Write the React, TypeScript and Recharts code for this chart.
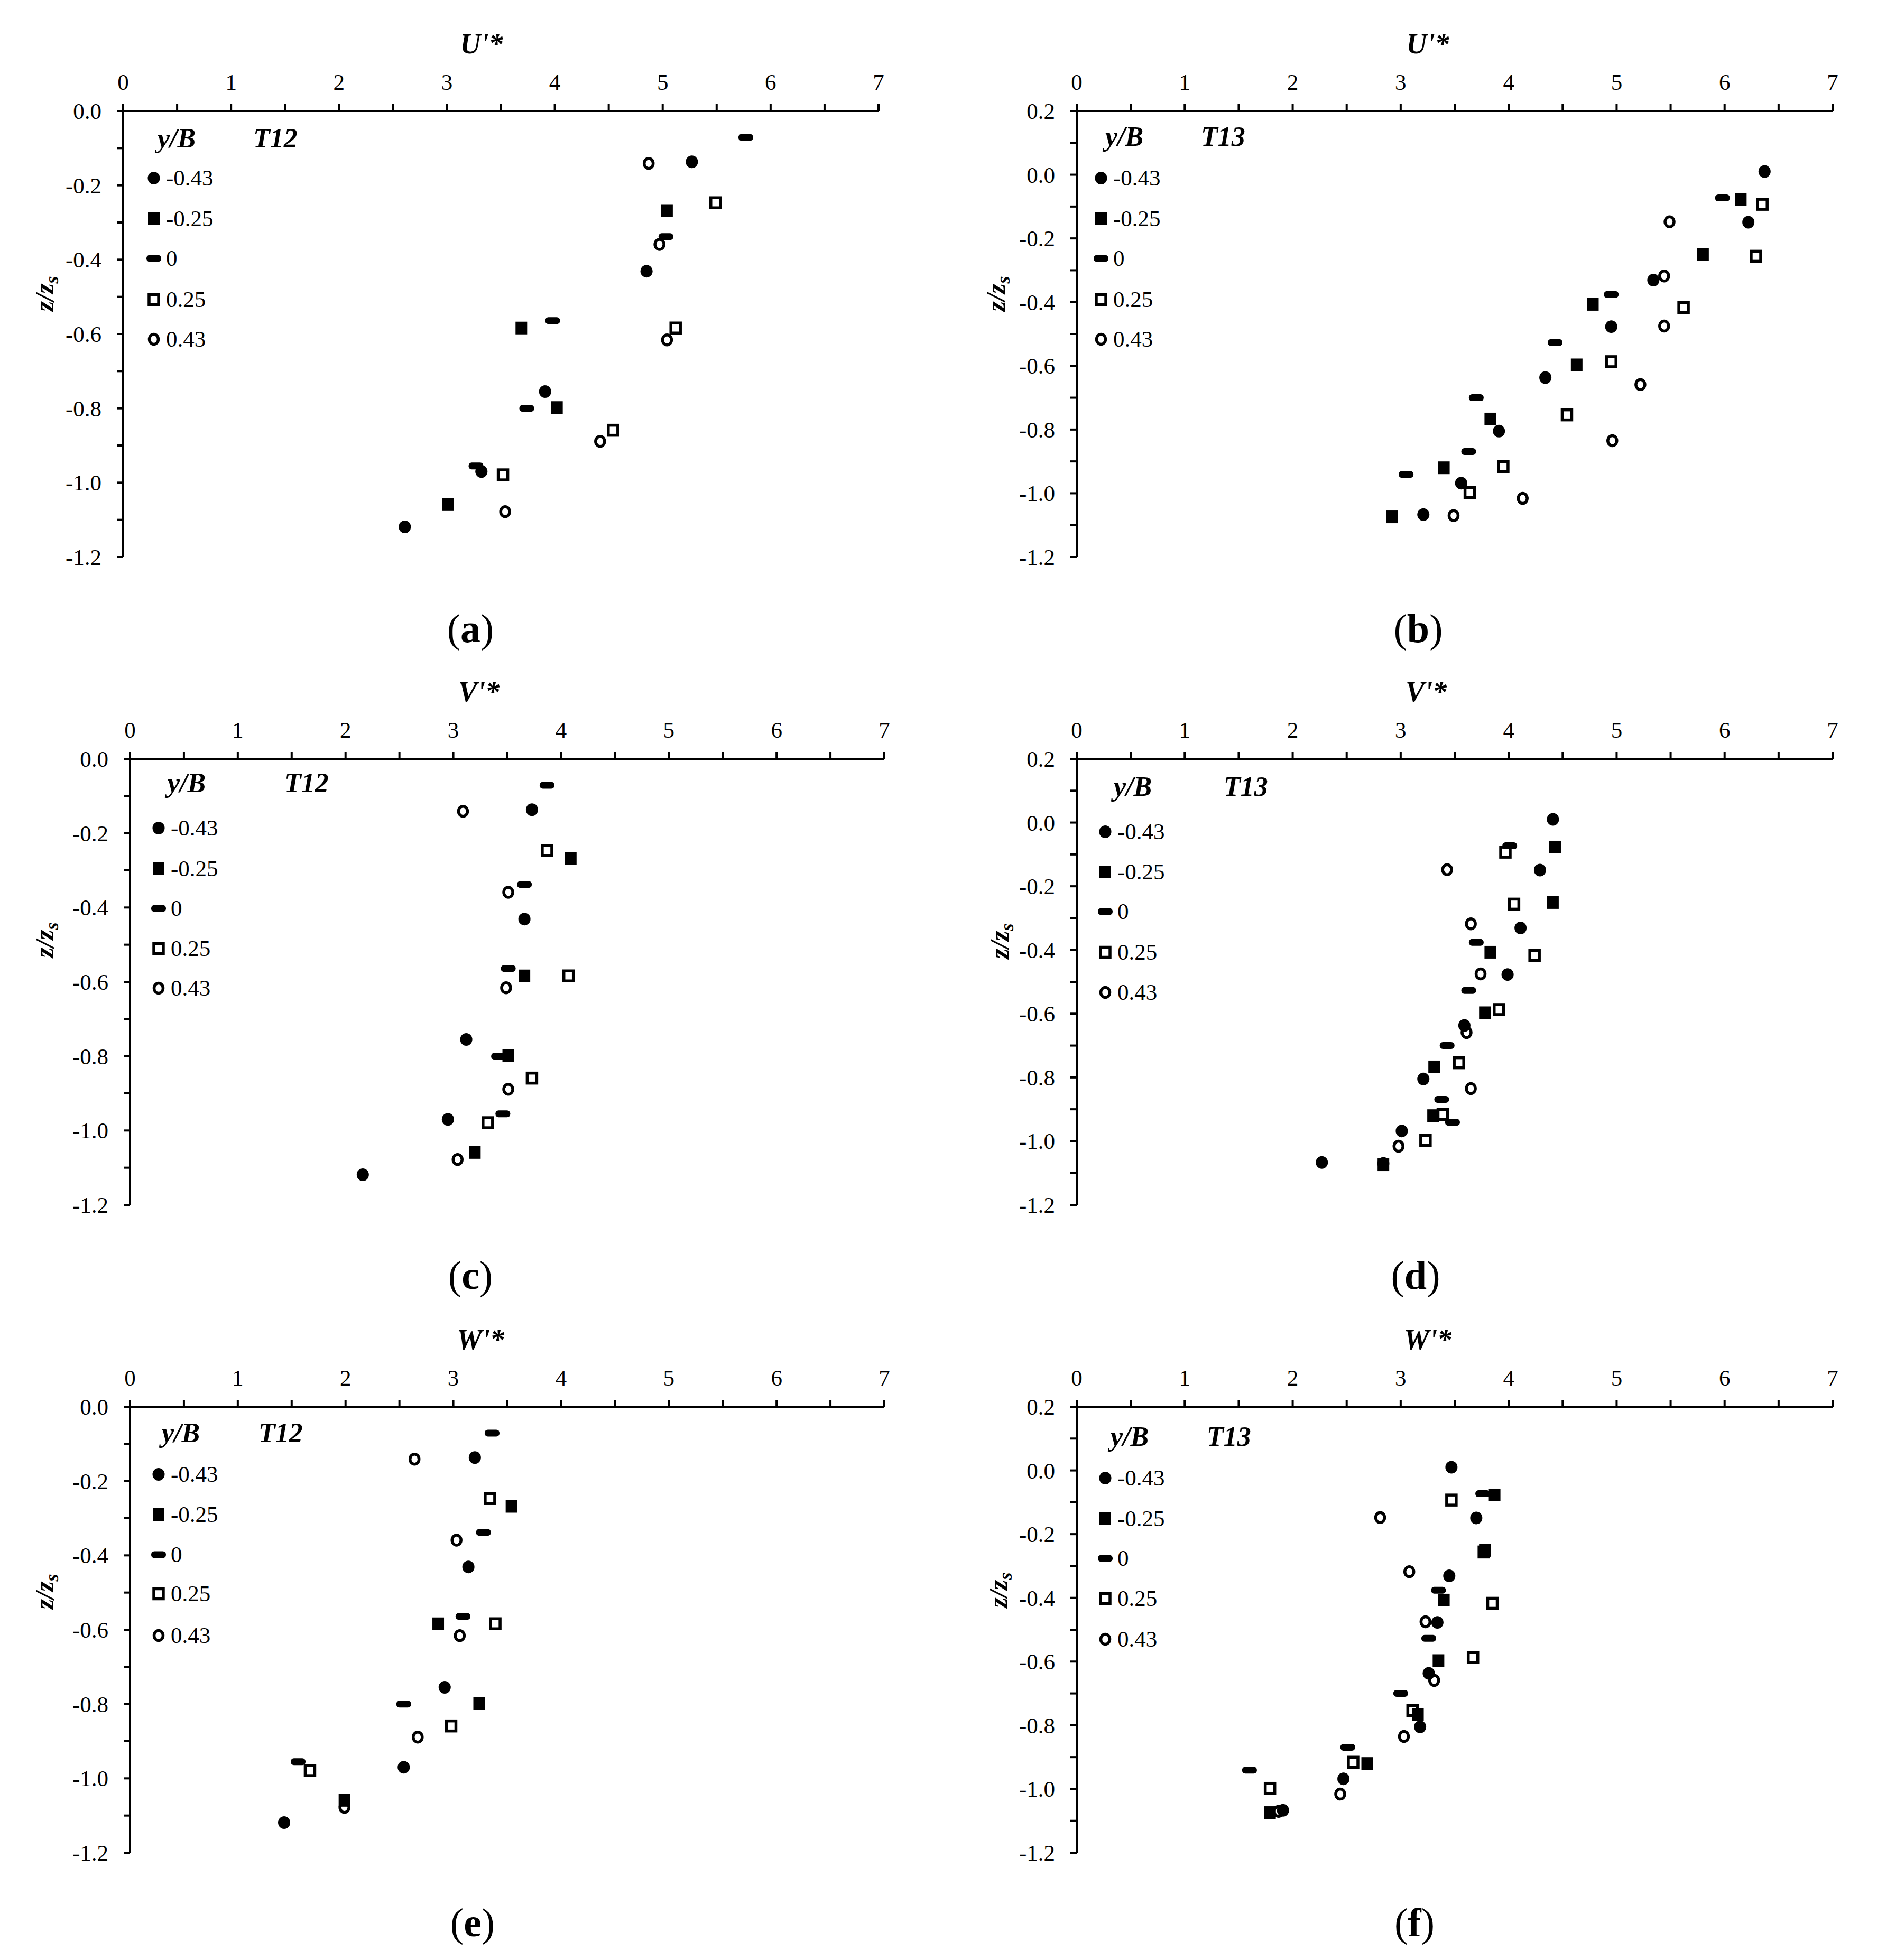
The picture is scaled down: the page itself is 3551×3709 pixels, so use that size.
import React from 'react';
import { ScatterChart, Scatter, XAxis, YAxis } from 'recharts';

const FONT = '"Liberation Serif", "Times New Roman", serif';

// legend entries (y/B)
const yBLabels = ['-0.43', '-0.25', '0', '0.25', '0.43'];

// axis ticks
const xTicks = [0, 0.5, 1, 1.5, 2, 2.5, 3, 3.5, 4, 4.5, 5, 5.5, 6, 6.5, 7];
const yTicksT12 = [0, -0.1, -0.2, -0.3, -0.4, -0.5, -0.6, -0.7, -0.8, -0.9, -1, -1.1, -1.2];
const yTicksT13 = [0.2, 0.1, 0, -0.1, -0.2, -0.3, -0.4, -0.5, -0.6, -0.7, -0.8, -0.9, -1, -1.1, -1.2];

// z/zs measuring depths, test T12
const zT12M43 = [-0.137, -0.431, -0.755, -0.97, -1.119];
const zT12M25 = [-0.268, -0.584, -0.798, -1.059];
const zT12Z0 = [-0.071, -0.338, -0.564, -0.8, -0.955];
const zT12P25 = [-0.247, -0.584, -0.859, -0.979];
const zT12P43 = [-0.141, -0.359, -0.616, -0.889, -1.078];

// z/zs measuring depths, test T13
const zT13M43 = [0.01, -0.149, -0.331, -0.477, -0.637, -0.805, -0.968, -1.067];
const zT13M25 = [-0.077, -0.251, -0.407, -0.597, -0.767, -0.92, -1.074];
const zT13Z0 = [-0.073, -0.376, -0.527, -0.7, -0.869, -0.941];
const zT13P25 = [-0.093, -0.256, -0.417, -0.587, -0.754, -0.916, -0.998];
const zT13P43 = [-0.148, -0.318, -0.475, -0.659, -0.835, -1.016, -1.07];

// U'* T12
const uT12M43 = [5.27, 4.85, 3.91, 3.32, 2.61];
const uT12M25 = [5.04, 3.69, 4.02, 3.01];
const uT12Z0 = [5.77, 5.03, 3.98, 3.74, 3.27];
const uT12P25 = [5.49, 5.12, 4.54, 3.52];
const uT12P43 = [4.87, 4.97, 5.04, 4.42, 3.54];

// V'* T12
const vT12M43 = [3.73, 3.66, 3.12, 2.95, 2.16];
const vT12M25 = [4.09, 3.66, 3.51, 3.2];
const vT12Z0 = [3.87, 3.66, 3.51, 3.42, 3.46];
const vT12P25 = [3.87, 4.07, 3.73, 3.32];
const vT12P43 = [3.09, 3.51, 3.49, 3.51, 3.04];

// W'* T12
const wT12M43 = [3.2, 3.14, 2.92, 2.54, 1.43];
const wT12M25 = [3.54, 2.86, 3.24, 1.99];
const wT12Z0 = [3.36, 3.28, 3.09, 2.54, 1.56];
const wT12P25 = [3.34, 3.39, 2.98, 1.67];
const wT12P43 = [2.64, 3.03, 3.06, 2.67, 1.99];

// U'* T13
const uT13M43 = [6.37, 6.22, 5.34, 4.95, 4.34, 3.91, 3.56, 3.21];
const uT13M25 = [6.15, 5.8, 4.78, 4.63, 3.83, 3.4, 2.92];
const uT13Z0 = [5.98, 4.95, 4.43, 3.7, 3.63, 3.05];
const uT13P25 = [6.35, 6.29, 5.62, 4.95, 4.54, 3.95, 3.64];
const uT13P43 = [5.49, 5.44, 5.44, 5.22, 4.96, 4.13, 3.49];

// V'* T13
const vT13M43 = [4.41, 4.29, 4.11, 3.99, 3.59, 3.21, 3.01, 2.27];
const vT13M25 = [4.43, 4.41, 3.83, 3.78, 3.31, 3.3, 2.84];
const vT13Z0 = [4.01, 3.7, 3.63, 3.43, 3.38, 3.48];
const vT13P25 = [3.97, 4.05, 4.24, 3.91, 3.54, 3.39, 3.23];
const vT13P43 = [3.43, 3.65, 3.74, 3.61, 3.65, 2.98, 2.84];

// W'* T13
const wT13M43 = [3.47, 3.7, 3.45, 3.34, 3.26, 3.18, 2.47, 1.91];
const wT13M25 = [3.87, 3.78, 3.4, 3.35, 3.16, 2.69, 1.79];
const wT13Z0 = [3.76, 3.35, 3.26, 3.0, 2.51, 1.6];
const wT13P25 = [3.47, 3.77, 3.85, 3.67, 3.11, 2.56, 1.79];
const wT13P43 = [2.81, 3.08, 3.23, 3.31, 3.03, 2.44, 1.87];

type Mark = 'dot' | 'square' | 'dash' | 'openSquare' | 'openDot';
const MARKS: Mark[] = ['dot', 'square', 'dash', 'openSquare', 'openDot'];

const zT12 = [zT12M43, zT12M25, zT12Z0, zT12P25, zT12P43];
const zT13 = [zT13M43, zT13M25, zT13Z0, zT13P25, zT13P43];

function zip(xs: number[], zs: number[]) {
  return xs.map((x, i) => ({ x, z: zs[i] }));
}

function drawMark(kind: Mark, cx: number, cy: number, key?: string) {
  switch (kind) {
    case 'dot':
      return <ellipse key={key} cx={cx} cy={cy} rx={11.5} ry={12} fill="#000" />;
    case 'square':
      return <rect key={key} x={cx - 11} y={cy - 12} width={22} height={24} fill="#000" />;
    case 'dash':
      return <rect key={key} x={cx - 14} y={cy - 6.5} width={28} height={13} rx={6} fill="#000" />;
    case 'openSquare':
      return (
        <rect key={key} x={cx - 9} y={cy - 9.5} width={18} height={19} fill="none" stroke="#000" strokeWidth={5.5} />
      );
    default:
      return <ellipse key={key} cx={cx} cy={cy} rx={8.5} ry={9.5} fill="none" stroke="#000" strokeWidth={5.5} />;
  }
}

const shapeFor = (kind: Mark) => (p: any) => drawMark(kind, p.cx, p.cy);

const renderXTick = (p: any) => {
  const v = p.payload.value;
  if (!Number.isInteger(v)) return <g />;
  return (
    <text x={p.x} y={p.y - 25} textAnchor="middle" fontFamily={FONT} fontSize={43} fill="#000">
      {v}
    </text>
  );
};

const renderYTick = (p: any) => {
  const v = p.payload.value;
  if (Math.abs(Math.round(v * 10)) % 2 !== 0) return <g />;
  return (
    <text x={p.x - 27} y={p.y + 15} textAnchor="end" fontFamily={FONT} fontSize={43} fill="#000">
      {v.toFixed(1)}
    </text>
  );
};

interface PanelCfg {
  plot: [number, number, number, number];
  yTop: number;
  yTicks: number[];
  series: number[][];
  zs: number[][];
  title: string;
  titleX: number;
  yTitle: [number, number];
  test: string;
  yBx: number;
  tX: number;
  legY: number;
  markX: number;
  rows: number[];
  label: string;
  labelPos: [number, number];
}

const panels: PanelCfg[] = [
  {
    plot: [233, 210, 1429, 844], yTop: 0, yTicks: yTicksT12,
    series: [uT12M43, uT12M25, uT12Z0, uT12P25, uT12P43], zs: zT12,
    title: "U'*", titleX: 911, yTitle: [89, 556], test: 'T12',
    yBx: 334, tX: 521, legY: 263, markX: 291, rows: [337, 414, 489, 567, 642],
    label: 'a', labelPos: [890, 1197],
  },
  {
    plot: [2037, 210, 1430, 844], yTop: 0.2, yTicks: yTicksT13,
    series: [uT13M43, uT13M25, uT13Z0, uT13P25, uT13P43], zs: zT13,
    title: "U'*", titleX: 2701, yTitle: [1889, 556], test: 'T13',
    yBx: 2127, tX: 2314, legY: 260, markX: 2083, rows: [337, 414, 489, 567, 642],
    label: 'b', labelPos: [2683, 1197],
  },
  {
    plot: [246, 1436, 1427, 844], yTop: 0, yTicks: yTicksT12,
    series: [vT12M43, vT12M25, vT12Z0, vT12P25, vT12P43], zs: zT12,
    title: "V'*", titleX: 906, yTitle: [89, 1779], test: 'T12',
    yBx: 353, tX: 580, legY: 1483, markX: 300, rows: [1567, 1644, 1719, 1795, 1870],
    label: 'c', labelPos: [890, 2421],
  },
  {
    plot: [2037, 1436, 1430, 844], yTop: 0.2, yTicks: yTicksT13,
    series: [vT13M43, vT13M25, vT13Z0, vT13P25, vT13P43], zs: zT13,
    title: "V'*", titleX: 2698, yTitle: [1896, 1781], test: 'T13',
    yBx: 2143, tX: 2357, legY: 1490, markX: 2091, rows: [1574, 1650, 1725, 1802, 1878],
    label: 'd', labelPos: [2678, 2421],
  },
  {
    plot: [246, 2662, 1427, 844], yTop: 0, yTicks: yTicksT12,
    series: [wT12M43, wT12M25, wT12Z0, wT12P25, wT12P43], zs: zT12,
    title: "W'*", titleX: 909, yTitle: [89, 3012], test: 'T12',
    yBx: 342, tX: 531, legY: 2713, markX: 300, rows: [2790, 2866, 2942, 3016, 3095],
    label: 'e', labelPos: [894, 3646],
  },
  {
    plot: [2037, 2662, 1430, 844], yTop: 0.2, yTicks: yTicksT13,
    series: [wT13M43, wT13M25, wT13Z0, wT13P25, wT13P43], zs: zT13,
    title: "W'*", titleX: 2701, yTitle: [1893, 3009], test: 'T13',
    yBx: 2137, tX: 2325, legY: 2720, markX: 2091, rows: [2797, 2874, 2949, 3025, 3102],
    label: 'f', labelPos: [2676, 3646],
  },
];

const AXW = 200;
const AXH = 100;
const axisStyle = { stroke: '#000', strokeWidth: 4 };

function Panel({ cfg }: { cfg: PanelCfg }) {
  const [px, py, pw, ph] = cfg.plot;
  return (
    <div style={{ position: 'absolute', left: px - AXW, top: py - AXH }}>
      <ScatterChart
        width={AXW + pw + 30}
        height={AXH + ph + 30}
        margin={{ top: 0, right: 30, bottom: 30, left: 0 }}
      >
        <XAxis
          type="number"
          dataKey="x"
          orientation="top"
          domain={[0, 7]}
          ticks={xTicks}
          interval={0}
          height={AXH}
          tickSize={13}
          tick={renderXTick}
          axisLine={axisStyle}
          tickLine={axisStyle}
        />
        <YAxis
          type="number"
          dataKey="z"
          domain={[-1.2, cfg.yTop]}
          ticks={cfg.yTicks}
          interval={0}
          width={AXW}
          tickSize={12}
          tick={renderYTick}
          axisLine={axisStyle}
          tickLine={axisStyle}
        />
        {cfg.series.map((xs, i) => (
          <Scatter
            key={yBLabels[i]}
            name={yBLabels[i]}
            data={zip(xs, cfg.zs[i])}
            shape={shapeFor(MARKS[i])}
            isAnimationActive={false}
          />
        ))}
      </ScatterChart>
    </div>
  );
}

function Overlay() {
  return (
    <svg
      width={3551}
      height={3709}
      style={{ position: 'absolute', left: 0, top: 0, pointerEvents: 'none' }}
    >
      {panels.map((c) => {
        const axisY = c.plot[1];
        const [tx, ty] = c.yTitle;
        return (
          <g key={c.label} fontFamily={FONT} fill="#000">
            <text x={c.titleX} y={axisY - 109} textAnchor="middle" fontSize={54} fontWeight="bold" fontStyle="italic">
              {c.title}
            </text>
            <text
              x={tx}
              y={ty + 12}
              transform={`rotate(-90 ${tx} ${ty})`}
              textAnchor="middle"
              fontSize={50}
              fontWeight="bold"
              fontStyle="italic"
            >
              z/z<tspan dy={9} fontSize={36}>s</tspan>
            </text>
            <text x={c.yBx} y={c.legY + 16} textAnchor="middle" fontSize={52} fontWeight="bold" fontStyle="italic">
              y/B
            </text>
            <text x={c.tX} y={c.legY + 16} textAnchor="middle" fontSize={52} fontWeight="bold" fontStyle="italic">
              {c.test}
            </text>
            {c.rows.map((ry, i) => (
              <g key={yBLabels[i]}>
                {drawMark(MARKS[i], c.markX, ry)}
                <text x={c.markX + 23} y={ry + 14} fontSize={43}>
                  {yBLabels[i]}
                </text>
              </g>
            ))}
            <text x={c.labelPos[0]} y={c.labelPos[1] + 18} textAnchor="middle" fontSize={76}>
              (<tspan fontWeight="bold">{c.label}</tspan>)
            </text>
          </g>
        );
      })}
    </svg>
  );
}

export default function App() {
  return (
    <div
      style={{
        position: 'absolute',
        left: 0,
        top: 0,
        width: 3551,
        height: 3709,
        background: '#fff',
        overflow: 'hidden',
      }}
    >
      {panels.map((c) => (
        <Panel key={c.label} cfg={c} />
      ))}
      <Overlay />
    </div>
  );
}
